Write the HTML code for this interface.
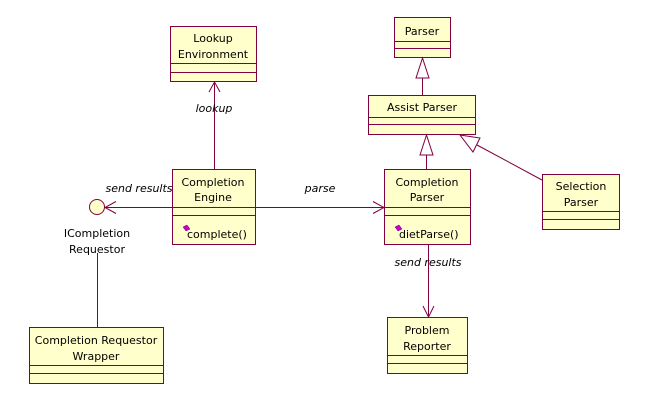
<!DOCTYPE html>
<html><head><meta charset="utf-8"><style>
html,body{margin:0;padding:0;background:#fff}
svg{display:block}
text{font-family:"DejaVu Sans","Liberation Sans",sans-serif;font-size:11px;fill:#000}
.i{font-style:italic}
</style></head><body>
<svg width="655" height="402" viewBox="0 0 655 402" xmlns="http://www.w3.org/2000/svg">
<g fill="#ffffcc" stroke="#800040" stroke-width="1">
<!-- Lookup Environment -->
<rect x="170.5" y="26.5" width="86" height="55"/>
<line x1="170" y1="63.5" x2="257" y2="63.5"/><line x1="170" y1="72.5" x2="257" y2="72.5"/>
<!-- Parser -->
<rect x="394.5" y="17.5" width="56" height="40"/>
<line x1="394" y1="41.5" x2="451" y2="41.5"/><line x1="394" y1="48.5" x2="451" y2="48.5"/>
<!-- Assist Parser -->
<rect x="368.5" y="95.5" width="107" height="39"/>
<line x1="368" y1="117.5" x2="476" y2="117.5"/><line x1="368" y1="124.5" x2="476" y2="124.5"/>
<!-- Completion Engine -->
<rect x="172.5" y="169.5" width="83" height="75"/>
<line x1="172" y1="207.5" x2="256" y2="207.5"/><line x1="172" y1="215.5" x2="256" y2="215.5"/>
<!-- Completion Parser -->
<rect x="384.5" y="169.5" width="86" height="75"/>
<line x1="384" y1="207.5" x2="471" y2="207.5"/><line x1="384" y1="215.5" x2="471" y2="215.5"/>
<!-- Selection Parser -->
<rect x="542.5" y="174.5" width="77" height="55"/>
<line x1="542" y1="211.5" x2="620" y2="211.5"/><line x1="542" y1="219.5" x2="620" y2="219.5"/>
<!-- Problem Reporter -->
<rect x="387.5" y="317.5" width="80" height="56"/>
<line x1="387" y1="355.5" x2="468" y2="355.5"/><line x1="387" y1="363.5" x2="468" y2="363.5"/>
<!-- Wrapper -->
<rect x="29.5" y="327.5" width="134" height="56"/>
<line x1="29" y1="365.5" x2="164" y2="365.5"/><line x1="29" y1="373.5" x2="164" y2="373.5"/>
<!-- interface -->
<circle cx="97" cy="207" r="7.5"/>
</g>
<g fill="none" stroke="#800040" stroke-width="1">
<line x1="214.5" y1="169" x2="214.5" y2="82"/>
<polyline points="209,92 214.5,82 220,92"/>
<line x1="256" y1="207.5" x2="384" y2="207.5"/>
<polyline points="373,201.5 384,207.5 373,213.5"/>
<line x1="172" y1="207.5" x2="105" y2="207.5"/>
<polyline points="116,201.5 105,207.5 116,213.5"/>
<line x1="97.5" y1="253" x2="97.5" y2="327"/>
<line x1="428.5" y1="244" x2="428.5" y2="317"/>
<polyline points="423,306 428.5,317 434,306"/>
<line x1="422.5" y1="78" x2="422.5" y2="95"/>
<polygon points="422.5,58 416,78 429,78" fill="#fff"/>
<line x1="426.5" y1="155" x2="426.5" y2="169"/>
<polygon points="426.5,135 420,155 433,155" fill="#fff"/>
<line x1="477" y1="145" x2="542" y2="180"/>
<polygon points="460,135 480,138 473,152" fill="#fff"/>
</g>
<g text-anchor="middle">
<text x="213" y="42">Lookup</text><text x="213" y="58">Environment</text>
<text x="422" y="35">Parser</text>
<text x="422" y="111">Assist Parser</text>
<text x="213" y="186">Completion</text><text x="213" y="201">Engine</text>
<text x="427" y="186">Completion</text><text x="427" y="201">Parser</text>
<text x="581" y="190">Selection</text><text x="581" y="206">Parser</text>
<text x="427" y="334">Problem</text><text x="427" y="350">Reporter</text>
<text x="96" y="344">Completion Requestor</text><text x="96" y="360">Wrapper</text>
<text x="97" y="237" fill="#000">ICompletion</text><text x="97" y="253">Requestor</text>
<text class="i" x="214" y="112">lookup</text>
<text class="i" x="320" y="192">parse</text>
<text class="i" x="139" y="192">send results</text>
<text class="i" x="428" y="266">send results</text>
</g>
<g fill="#cc00cc" stroke="#600060" stroke-width="0.5">
<polygon points="183,227 187,225 190,229 186,231"/>
<polygon points="395,227 399,225 402,229 398,231"/>
</g>
<text x="187" y="238">complete()</text>
<text x="399" y="238">dietParse()</text>
</svg>
</body></html>
